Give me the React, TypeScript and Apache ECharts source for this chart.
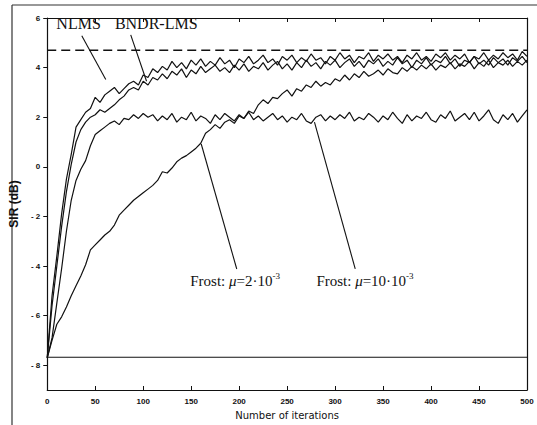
import React, { useEffect, useRef } from "react";
import * as echarts from "echarts";

// iterations sampled every 5 steps: 0,5,...,500
const ITER_STEP = 5;

const nlms = [
  -7.7, -5.2, -3.6, -1.9, -0.5, 0.5, 1.6, 1.9, 2.2, 2.35, 2.8, 2.6, 2.9, 3.05, 3.2, 2.95, 3.15, 3.35, 3.45, 3.3,
  3.7, 3.6, 3.95, 3.8, 4.05, 3.9, 4.25, 4.0, 4.2, 3.95, 4.3, 4.1, 4.35, 4.05, 4.25, 4.1, 4.4, 4.15, 4.3, 4.0,
  4.35, 4.2, 4.45, 4.15, 4.3, 4.5, 4.2, 4.35, 4.1, 4.45, 4.3, 4.5, 4.2, 4.4, 4.25, 4.55, 4.3, 4.4, 4.15, 4.45,
  4.3, 4.6, 4.35, 4.5, 4.2, 4.45, 4.35, 4.6, 4.25, 4.5, 4.35, 4.55, 4.3, 4.45, 4.2, 4.5, 4.35, 4.6, 4.3, 4.45,
  4.25, 4.55, 4.4, 4.6, 4.3, 4.5, 4.35, 4.55, 4.2, 4.45, 4.35, 4.6, 4.3, 4.5, 4.35, 4.6, 4.4, 4.55, 4.3, 4.65,
  4.45,
];

const bndrLms = [
  -7.7, -5.6, -4.0, -2.4, -1.0, 0.1, 1.0, 1.5, 1.8, 2.0, 2.1, 2.3, 2.2, 2.35, 2.5, 2.7, 2.85, 3.1, 3.2, 3.1,
  3.45, 3.3, 3.6, 3.5, 3.75, 3.55, 3.85, 3.7, 3.95, 3.6, 3.9, 3.75, 4.05, 3.8, 3.95, 4.1, 3.85, 4.0, 3.8, 4.1,
  3.9, 4.15, 3.85, 4.05, 3.95, 4.2, 3.9, 4.1, 4.25, 3.95, 4.15, 3.9, 4.2, 4.0, 4.3, 4.05, 4.2, 3.95, 4.25, 4.1,
  4.3, 4.0, 4.2, 4.35, 4.05, 4.25, 4.0, 4.3, 4.15, 4.35, 4.05, 4.25, 4.1, 4.4, 4.15, 4.3, 4.0, 4.3, 4.15, 4.4,
  4.1, 4.3, 4.2, 4.45, 4.15, 4.35, 4.05, 4.3, 4.2, 4.45, 4.15, 4.3, 4.1, 4.4, 4.2, 4.35, 4.1, 4.4, 4.25, 4.45,
  4.2,
];

const frost10 = [
  -7.7, -6.9, -5.5, -4.1, -2.6, -1.35, -0.55, -0.1, 0.25, 0.85, 1.3, 1.45, 1.6, 1.75, 1.85, 1.7, 1.95, 1.9, 2.1, 1.95,
  2.15, 2.0, 2.1, 1.85, 2.05, 1.9, 2.15, 1.8, 2.0, 1.9, 2.2, 1.85, 2.05, 1.95, 1.75, 2.1, 1.9, 2.15, 2.0, 1.85,
  2.1, 1.95, 2.2, 1.9, 2.05, 1.85, 2.0, 2.15, 1.9, 2.05, 1.8, 2.0, 1.9, 2.15, 1.85, 1.75, 2.0, 2.1, 1.85, 2.05,
  1.9, 2.1, 1.95, 2.2, 1.85, 2.0, 1.9, 2.15, 2.0, 1.8, 2.05, 1.9, 2.2, 1.95, 1.75, 2.1, 1.85, 2.05, 1.95, 2.2,
  1.9, 1.8, 2.1, 1.95, 2.25, 1.85, 2.0, 2.15, 1.9, 2.2, 1.85, 2.05, 2.3, 1.9, 1.75, 2.1, 1.9, 2.15, 1.8, 2.05,
  2.3,
];

const frost2 = [
  -7.7, -7.0, -6.35, -6.05, -5.65, -5.2, -4.8, -4.4, -3.95, -3.35, -3.15, -2.95, -2.75, -2.6, -2.35, -1.95, -1.75, -1.55, -1.35, -1.2,
  -1.05, -0.9, -0.75, -0.55, -0.2, -0.25, -0.05, 0.2, 0.35, 0.45, 0.6, 0.75, 0.95, 1.35, 1.5, 1.7, 1.55, 1.8, 1.9, 1.75,
  2.05, 1.95, 2.25, 2.15, 2.5, 2.7, 2.55, 2.8, 2.75, 2.95, 3.1, 2.85, 3.15, 3.05, 3.3, 3.2, 3.45, 3.25, 3.4, 3.3,
  3.55, 3.45, 3.7, 3.5, 3.75, 3.6, 3.85, 3.65, 3.75, 3.9, 3.7, 3.95, 3.8, 3.75, 4.0, 3.85, 4.05, 3.9, 4.1, 3.95,
  4.15, 3.9, 4.1, 4.0, 4.2, 3.95, 4.15, 4.05, 4.25, 3.95, 4.2, 4.05, 4.3, 4.0, 4.2, 4.1, 4.3, 4.05, 4.25, 4.1,
  4.3,
];

const optimumSIR = 4.7;
const initialSIR = -7.68;

const xTicks = [0, 50, 100, 150, 200, 250, 300, 350, 400, 450, 500];
const yTicks = [6, 4, 2, 0, -2, -4, -6, -8];

// annotation anchors in data coordinates [iteration, SIR]
const annotations = [
  { text: "NLMS", at: [9.5, 5.76], from: [36, 5.28], to: [61, 3.52] },
  { text: "BNDR-LMS", at: [70.5, 5.76], from: [87, 5.32], to: [103.5, 3.45] },
  { text: "Frost: {mu|μ}=2·10{sup|-3}", at: [149, -4.6], from: [160.5, 0.92], to: [197.5, -4.12] },
  { text: "Frost: {mu|μ}=10·10{sup|-3}", at: [280.5, -4.6], from: [278.5, 1.8], to: [321, -4.12] },
];

const toPairs = (vals: number[]) => vals.map((v, k) => [k * ITER_STEP, v]);

export default function App() {
  const ref = useRef<HTMLDivElement>(null);
  useEffect(() => {
    if (!ref.current) return;
    const chart = echarts.init(ref.current, undefined, { renderer: "svg" });
    const axisColor = "#111";
    const tickFont = { fontFamily: "Liberation Sans", fontWeight: "bold" as const, fontSize: 8, color: "#111" };
    const lineSeries = (name: string, vals: number[]) => ({
      name,
      type: "line",
      data: toPairs(vals),
      showSymbol: false,
      symbol: "none",
      lineStyle: { color: "#111", width: 1.2 },
      z: 3,
    });
    chart.setOption({
      animation: false,
      backgroundColor: "#fff",
      grid: { left: 44, right: 10, top: 18, bottom: 30, containLabel: false },
      xAxis: [
        {
          type: "value",
          min: 0,
          max: 500,
          interval: 50,
          position: "bottom",
          axisLine: { show: true, onZero: false, lineStyle: { color: axisColor, width: 1.2 } },
          axisTick: { show: true, inside: true, length: 4, lineStyle: { color: axisColor } },
          axisLabel: { ...tickFont, margin: 7, customValues: xTicks },
          splitLine: { show: false },
          name: "Number of iterations",
          nameLocation: "middle",
          nameGap: 20,
          nameTextStyle: { fontFamily: "DejaVu Sans", fontSize: 10, color: "#111" },
        },
        {
          type: "value",
          min: 0,
          max: 500,
          interval: 50,
          position: "top",
          axisLine: { show: true, onZero: false, lineStyle: { color: axisColor, width: 1.2 } },
          axisTick: { show: true, inside: true, length: 4, lineStyle: { color: axisColor } },
          axisLabel: { show: false },
          splitLine: { show: false },
        },
      ],
      yAxis: [
        {
          type: "value",
          min: -9,
          max: 6,
          axisLine: { show: true, onZero: false, lineStyle: { color: axisColor, width: 1.2 } },
          axisTick: { show: true, inside: false, length: 4, customValues: yTicks, lineStyle: { color: axisColor } },
          axisLabel: {
            ...tickFont,
            margin: 7,
            customValues: yTicks,
            formatter: (v: number) => (v < 0 ? "- " + Math.abs(v) : String(v)),
          },
          splitLine: { show: false },
          name: "SIR (dB)",
          nameLocation: "middle",
          nameGap: 24,
          nameTextStyle: { fontFamily: "Liberation Sans", fontWeight: "bold", fontSize: 12, color: "#111" },
        },
        {
          type: "value",
          min: -9,
          max: 6,
          position: "right",
          axisLine: { show: true, onZero: false, lineStyle: { color: axisColor, width: 1.2 } },
          axisTick: { show: false },
          axisLabel: { show: false },
          splitLine: { show: false },
        },
      ],
      series: [
        lineSeries("NLMS", nlms),
        lineSeries("BNDR-LMS", bndrLms),
        lineSeries("Frost mu=10e-3", frost10),
        lineSeries("Frost mu=2e-3", frost2),
        {
          name: "optimum",
          type: "line",
          data: [[0, optimumSIR], [500, optimumSIR]],
          symbol: "none",
          lineStyle: { color: "#111", width: 1.3, type: [9, 5] },
        },
        {
          name: "initial",
          type: "line",
          data: [[0, initialSIR], [500, initialSIR]],
          symbol: "none",
          lineStyle: { color: "#111", width: 1.2 },
        },
      ],
    });

    const px = (p: number[]) => chart.convertToPixel({ gridIndex: 0 }, p) as number[];
    const graphics: any[] = [
      { type: "line", shape: { x1: 12, y1: 5, x2: 12, y2: 425 }, style: { stroke: "#333", lineWidth: 1.2 } },
      { type: "line", shape: { x1: 12, y1: 5, x2: 537, y2: 5 }, style: { stroke: "#333", lineWidth: 1.2 } },
    ];
    annotations.forEach((a) => {
      const t = px(a.at);
      const f = px(a.from);
      const e = px(a.to);
      graphics.push({
        type: "line",
        shape: { x1: f[0], y1: f[1], x2: e[0], y2: e[1] },
        style: { stroke: "#111", lineWidth: 1.1 },
        z: 10,
      });
      graphics.push({
        type: "text",
        x: t[0],
        y: t[1],
        z: 11,
        style: {
          text: a.text,
          fontFamily: "Liberation Serif",
          fontSize: a.text.startsWith("Frost") ? 15 : 16,
          fill: "#111",
          align: "left",
          textAlign: "left",
          verticalAlign: "middle",
          textVerticalAlign: "middle",
          lineHeight: 18,
          rich: {
            mu: { fontFamily: "Liberation Serif", fontStyle: "italic", fontSize: 15, fill: "#111" },
            sup: { fontFamily: "Liberation Serif", fontSize: 9, fill: "#111", verticalAlign: "top", lineHeight: 18 },
          },
        },
      });
    });
    chart.setOption({ graphic: graphics });
    return () => chart.dispose();
  }, []);
  return (
    <div
      ref={ref}
      style={{ position: "fixed", left: 0, top: 0, width: 537, height: 425, background: "#fff" }}
    />
  );
}
